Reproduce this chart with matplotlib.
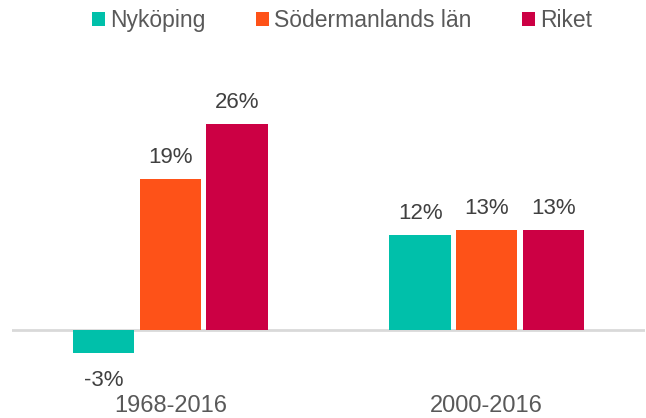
import numpy as np
import matplotlib
matplotlib.use("Agg")
import matplotlib.pyplot as plt

plt.rcParams['font.family'] = ['Liberation Sans', 'DejaVu Sans']

# ── data ───────────────────────────────
PERIODS   = ["1968-2016", "2000-2016"]
SERIES    = ["Nyköping", "Södermanlands län", "Riket"]
NYKOPING  = [-2.9, 12.0]
SODERMAN  = [19.0, 12.6]
RIKET     = [26.0, 12.6]
COLORS    = ["#00c0aa", "#fe5218", "#cc0044"]

VALUE_COLOR = "#404040"
LABEL_COLOR = "#595959"

values = [NYKOPING, SODERMAN, RIKET]
x = np.arange(len(PERIODS))
step, width = 0.2105, 0.194

fig = plt.figure(figsize=(6.46, 4.18), dpi=100)
ax = fig.add_axes([12 / 646, 26 / 418, 633 / 646, 342 / 418])

bars = []
for i, (name, vals, color) in enumerate(zip(SERIES, values, COLORS)):
    b = ax.bar(x + (i - 1) * step, vals, width, color=color, label=name, zorder=2)
    bars.append(b)
    for rect, v in zip(b, vals):
        cx = rect.get_x() + rect.get_width() / 2
        if v >= 0:
            ax.annotate(f"{v:.0f}%", (cx, v), xytext=(0, 8), textcoords='offset points',
                        ha='center', va='bottom', fontsize=16, color=VALUE_COLOR)
        else:
            ax.annotate(f"{v:.0f}%", (cx, v), xytext=(0, -12.5), textcoords='offset points',
                        ha='center', va='top', fontsize=16, color=VALUE_COLOR)

ax.axhline(0, color="#d9d9d9", linewidth=2, zorder=1)

ax.set_xlim(-0.5, 1.5)
ax.set_ylim(-7.83, 35.35)
ax.set_xticks(x)
ax.set_xticklabels(PERIODS, fontsize=17, color=LABEL_COLOR)
ax.tick_params(axis='x', length=0, pad=2.2)
ax.set_yticks([])
for s in ax.spines.values():
    s.set_visible(False)

fig.legend(handles=bars, labels=SERIES, loc='center', bbox_to_anchor=(0.529, 0.950),
           ncol=3, frameon=False, fontsize=16.5, labelcolor=LABEL_COLOR,
           handlelength=0.57, handleheight=0.57, handletextpad=0.22,
           columnspacing=2.2, borderpad=0, borderaxespad=0)

fig.savefig("out.png", dpi=100)
